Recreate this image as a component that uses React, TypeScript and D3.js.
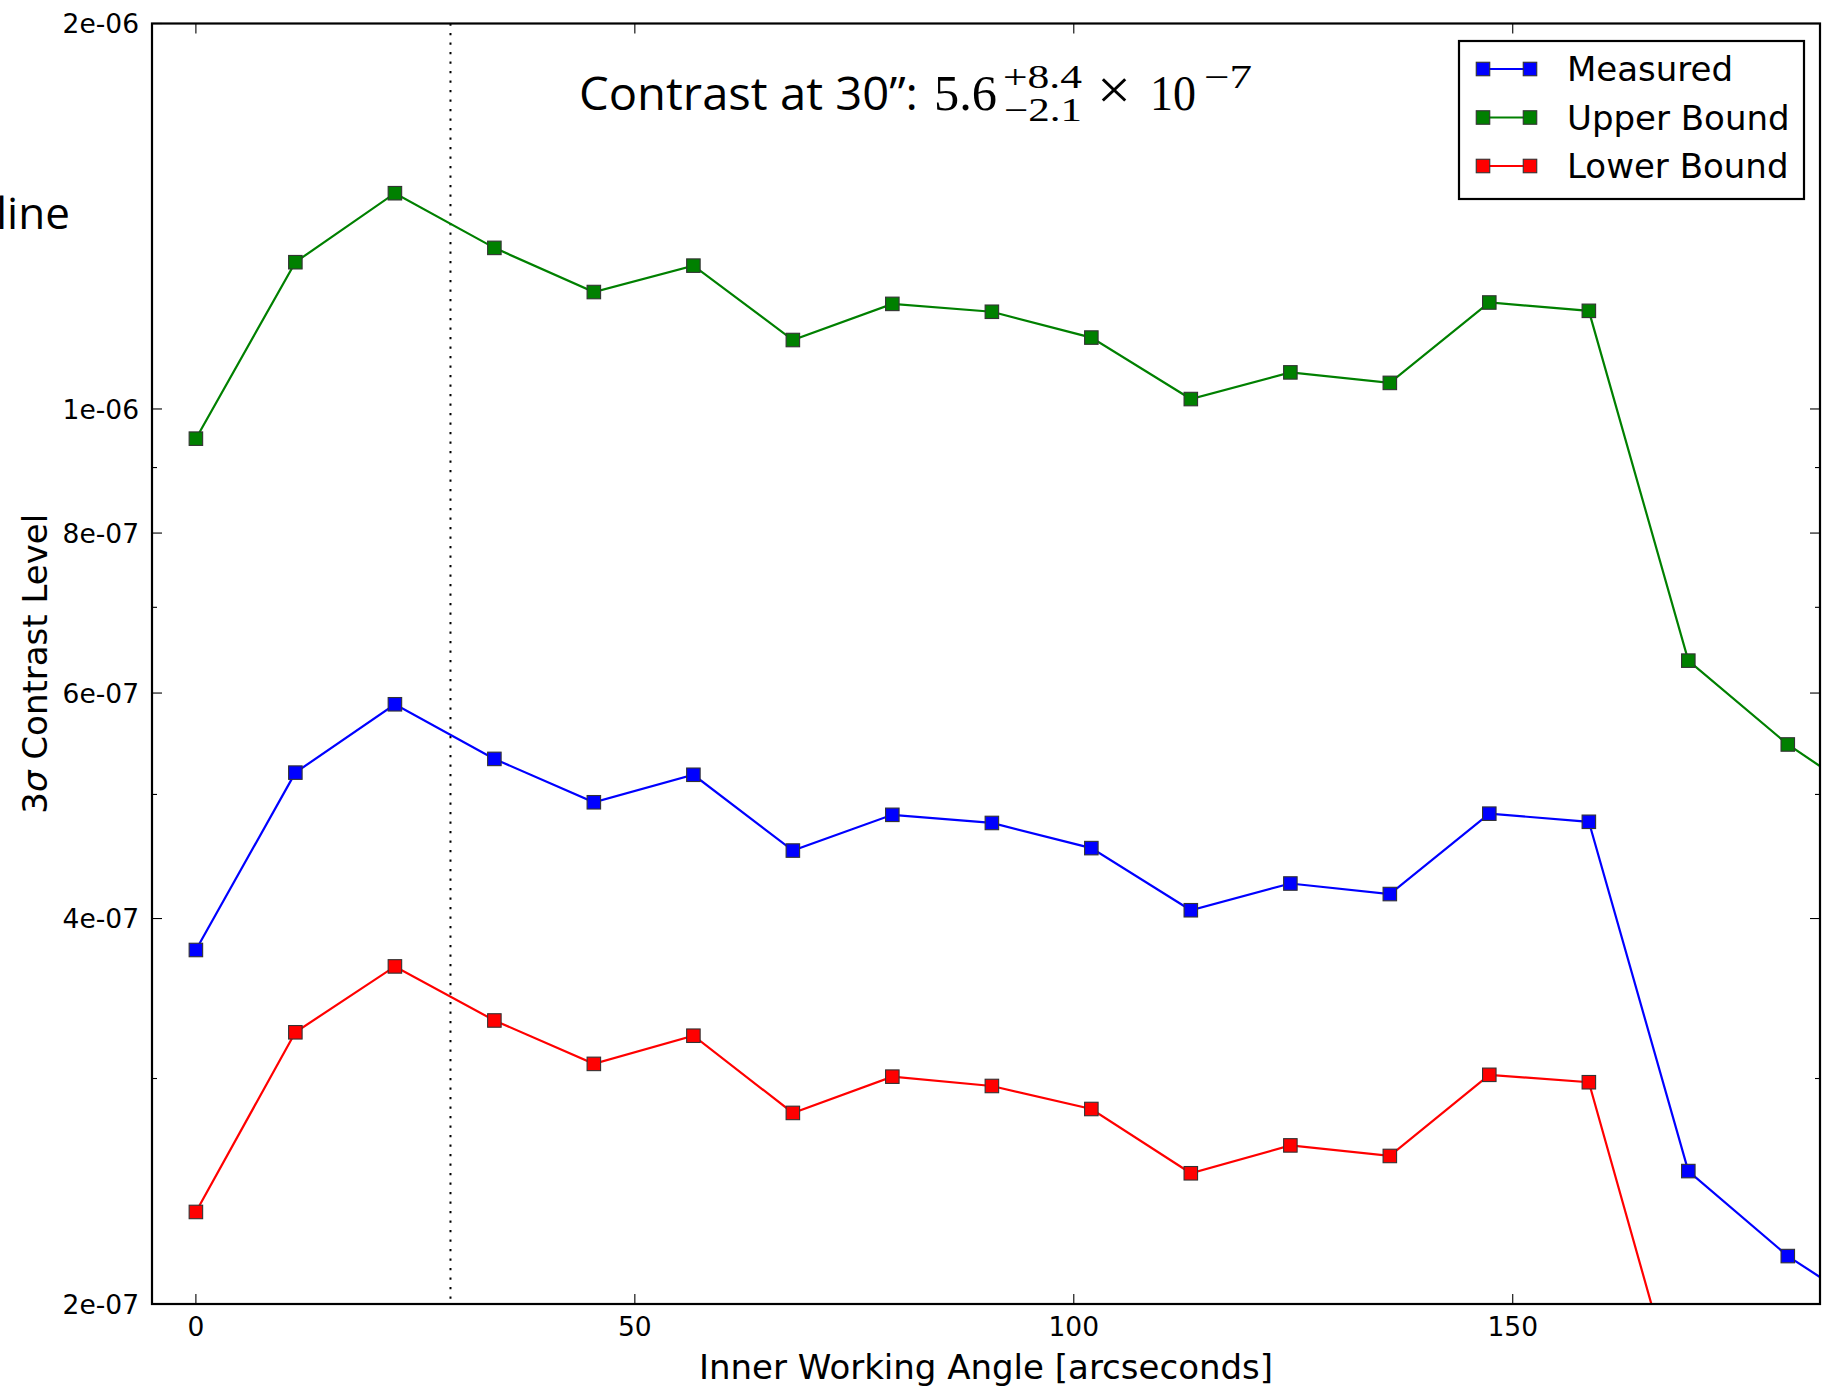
import React from 'react';
import * as d3 from 'd3';

// ---- data ----
const angles = [0, 11.33, 22.67, 34, 45.33, 56.67, 68, 79.33, 90.67, 102, 113.33, 124.67, 136, 147.33, 158.67, 170, 181.33, 192.67];
const measured = [3.78e-7, 5.2e-7, 5.88e-7, 5.33e-7, 4.93e-7, 5.18e-7, 4.52e-7, 4.82e-7, 4.75e-7, 4.54e-7, 4.06e-7, 4.26e-7, 4.18e-7, 4.83e-7, 4.76e-7, 2.54e-7, 2.18e-7, 1.94e-7];
const upper = [9.48e-7, 1.302e-6, 1.474e-6, 1.336e-6, 1.234e-6, 1.294e-6, 1.132e-6, 1.208e-6, 1.191e-6, 1.137e-6, 1.018e-6, 1.068e-6, 1.048e-6, 1.211e-6, 1.193e-6, 6.36e-7, 5.47e-7, 4.85e-7];
const lower = [2.36e-7, 3.26e-7, 3.67e-7, 3.33e-7, 3.08e-7, 3.24e-7, 2.82e-7, 3.01e-7, 2.96e-7, 2.84e-7, 2.53e-7, 2.66e-7, 2.61e-7, 3.02e-7, 2.98e-7, 1.58e-7, 1.36e-7, 1.21e-7];
const seriesNames = ['Measured', 'Upper Bound', 'Lower Bound'];
const seriesColors = ['#0000ff', '#008000', '#ff0000'];
const xTicks = [0, 50, 100, 150];
const yMajorTicks = [2e-6, 1e-6, 8e-7, 6e-7, 4e-7, 2e-7];
const yMajorLabels = ['2e-06', '1e-06', '8e-07', '6e-07', '4e-07', '2e-07'];
const yMinorTicks = [9e-7, 7e-7, 5e-7, 3e-7];
const markerLine = 29;
const xDomain = [-5, 185];
const yDomain = [2e-7, 2e-6];

const W = 1822;
const H = 1388;
const L = 152, R = 1820, T = 23.5, B = 1304;

export default function App() {
  const x = d3.scaleLinear().domain(xDomain).range([L, R]);
  const y = d3.scaleLog().domain(yDomain).range([B, T]);
  const line = d3.line<number>().x((_, i) => x(angles[i])).y(d => y(d));
  const allSeries = [measured, upper, lower];
  const drawOrder = [0, 1, 2];
  const ms = 13.5;
  const tickFont = 'DejaVu Sans';

  return (
    <svg width={W} height={H} style={{ position: 'absolute', left: 0, top: 0, background: '#fff' }}>
      <rect x={0} y={0} width={W} height={H} fill="#fff" />
      <defs>
        <clipPath id="plotclip">
          <rect x={L} y={T} width={R - L} height={B - T} />
        </clipPath>
      </defs>

      {/* stray slide text */}
      <text x={-4} y={229} fontFamily="Open Sans" fontSize={44} fill="#000">line</text>

      {/* dotted vertical line */}
      <line x1={x(markerLine)} x2={x(markerLine)} y1={T} y2={B} stroke="#000" strokeWidth={2} strokeDasharray="2.2 7.3" />

      <g clipPath="url(#plotclip)">
        {drawOrder.map(si => (
          <g key={si}>
            <path d={line(allSeries[si]) || ''} fill="none" stroke={seriesColors[si]} strokeWidth={2.2} />
            {allSeries[si].map((v, i) => (
              <rect key={i} x={x(angles[i]) - ms / 2} y={y(v) - ms / 2} width={ms} height={ms}
                fill={seriesColors[si]} stroke="#333" strokeWidth={1.1} />
            ))}
          </g>
        ))}
      </g>

      {/* ticks */}
      {xTicks.map(t => (
        <g key={'xt' + t}>
          <line x1={x(t)} x2={x(t)} y1={B} y2={B - 10} stroke="#000" strokeWidth={1.1} />
          <line x1={x(t)} x2={x(t)} y1={T} y2={T + 10} stroke="#000" strokeWidth={1.1} />
          <text x={x(t)} y={1336} textAnchor="middle" fontFamily={tickFont} fontSize={26.5} fill="#000">{t}</text>
        </g>
      ))}
      {yMajorTicks.map((t, i) => (
        <g key={'yt' + i}>
          <line x1={L} x2={L + 10} y1={y(t)} y2={y(t)} stroke="#000" strokeWidth={1.1} />
          <line x1={R} x2={R - 10} y1={y(t)} y2={y(t)} stroke="#000" strokeWidth={1.1} />
          <text x={139} y={y(t)} dy="0.36em" textAnchor="end" fontFamily={tickFont} fontSize={26.5} fill="#000">{yMajorLabels[i]}</text>
        </g>
      ))}
      {yMinorTicks.map((t, i) => (
        <g key={'ym' + i}>
          <line x1={L} x2={L + 5} y1={y(t)} y2={y(t)} stroke="#000" strokeWidth={1.1} />
          <line x1={R} x2={R - 5} y1={y(t)} y2={y(t)} stroke="#000" strokeWidth={1.1} />
        </g>
      ))}

      {/* spines */}
      <rect x={L} y={T} width={R - L} height={B - T} fill="none" stroke="#000" strokeWidth={2.2} />

      {/* axis labels */}
      <text x={(L + R) / 2} y={1379} textAnchor="middle" fontFamily={tickFont} fontSize={34} fill="#000">Inner Working Angle [arcseconds]</text>
      <text transform={`translate(47, ${(T + B) / 2}) rotate(-90)`} textAnchor="middle" fontFamily={tickFont} fontSize={34} fill="#000">
        3<tspan fontStyle="italic">σ</tspan> Contrast Level
      </text>

      {/* annotation title */}
      <text x={579} y={110} fontFamily="Open Sans" fontSize={46} fill="#000" textLength={339} lengthAdjust="spacingAndGlyphs">Contrast at 30”:</text>
      <text x={934} y={110} fontFamily="Liberation Serif" fontSize={50} fill="#000" textLength={63} lengthAdjust="spacingAndGlyphs">5.6</text>
      <text x={1003} y={88} fontFamily="Liberation Serif" fontSize={33} fill="#000" textLength={79} lengthAdjust="spacingAndGlyphs">+8.4</text>
      <text x={1004} y={120.5} fontFamily="Liberation Serif" fontSize={33} fill="#000" textLength={78} lengthAdjust="spacingAndGlyphs">−2.1</text>
      <text x={1097} y={109} fontFamily="Liberation Serif" fontSize={56} fill="#000" textLength={34} lengthAdjust="spacingAndGlyphs">×</text>
      <text x={1150} y={110} fontFamily="Liberation Serif" fontSize={50} fill="#000" textLength={46} lengthAdjust="spacingAndGlyphs">10</text>
      <text x={1204} y={88} fontFamily="Liberation Serif" fontSize={33} fill="#000" textLength={48} lengthAdjust="spacingAndGlyphs">−7</text>

      {/* legend */}
      <rect x={1459} y={41} width={345} height={158} fill="#fff" stroke="#000" strokeWidth={2.2} />
      {seriesNames.map((n, i) => {
        const cy = 69 + i * 48.5;
        return (
          <g key={n}>
            <line x1={1483} x2={1530} y1={cy} y2={cy} stroke={seriesColors[i]} strokeWidth={2.2} />
            <rect x={1483 - ms / 2} y={cy - ms / 2} width={ms} height={ms} fill={seriesColors[i]} stroke="#333" strokeWidth={1.1} />
            <rect x={1530 - ms / 2} y={cy - ms / 2} width={ms} height={ms} fill={seriesColors[i]} stroke="#333" strokeWidth={1.1} />
            <text x={1567} y={cy + 12} fontFamily={tickFont} fontSize={34} fill="#000">{n}</text>
          </g>
        );
      })}
    </svg>
  );
}
